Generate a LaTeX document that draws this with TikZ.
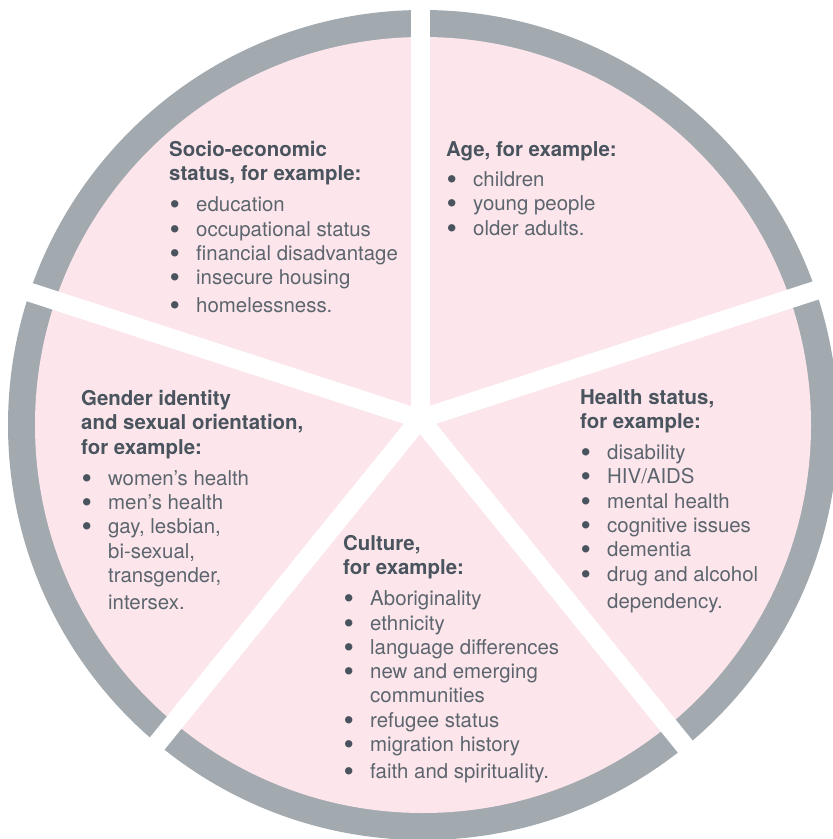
\documentclass[tikz,border=0pt]{standalone}
\usepackage{fontspec}
\setmainfont{TeX Gyre Heros}
\definecolor{pinkfill}{HTML}{FCE6EB}
\definecolor{rimgrey}{HTML}{A2A9AF}
\definecolor{headc}{HTML}{4A545E}
\definecolor{itemc}{HTML}{5C656E}
\newcommand{\bdot}{\raisebox{-3bp}{\scalebox{1.45}{\textcolor{headc}{\textbullet}}}}
\newcommand{\bitem}[1]{\makebox[27bp][l]{\hspace*{0.5bp}\bdot}#1}
\newcommand{\bcont}[1]{\hspace*{27bp}#1}
\newcommand{\hd}[1]{{\bfseries\color{headc}#1}}
\tikzset{
  block/.style={anchor=north west, inner sep=0pt, align=left, text=itemc,
    font=\fontsize{20.5}{24.4}\selectfont},
  gap/.style={draw=white, line width=19bp},
}
\begin{document}
\begin{tikzpicture}[x=1bp,y=-1bp]
\useasboundingbox (0,0) rectangle (833,839);
\clip (0,0) rectangle (833,839);
\coordinate (c) at (423,425);
\coordinate (s) at (420,419);
% rim and fill
\fill[rimgrey] (c) circle[radius=415];
\fill[pinkfill] (c) circle[radius=388];
% gaps
\draw[gap] (s) -- ++(-90:500);
\draw[gap] (s) -- ++(-18:500);
\draw[gap] (s) -- ++(-162:500);
\draw[gap] (s) -- ++(51:500);
\draw[gap] (s) -- ++(129:500);
% texts
\node[block] (socio) at (169,141.2) {\hd{Socio-economic}\\\hd{status, for example:}\\[6.6bp]
  \bitem{education}\\\bitem{occupational status}\\\bitem{financial disadvantage}\\
  \bitem{insecure housing}\\[3bp]\bitem{homelessness.}};
\node[block] (age) at (446,141.2) {\hd{Age, for example:}\\[6bp]
  \bitem{children}\\\bitem{young people}\\\bitem{older adults.}};
\node[block] (gender) at (81,390.2) {\hd{Gender identity}\\\hd{and sexual orientation,}\\\hd{for example:}\\[6.6bp]
  \bitem{women’s health}\\\bitem{men’s health}\\\bitem{gay, lesbian,}\\\bcont{bi-sexual,}\\
  \bcont{transgender,}\\[3bp]\bcont{intersex.}};
\node[block] (health) at (580,389.2) {\hd{Health status,}\\\hd{for example:}\\[6.6bp]
  \bitem{disability}\\\bitem{HIV/AIDS}\\\bitem{mental health}\\\bitem{cognitive issues}\\
  \bitem{dementia}\\\bitem{drug and alcohol}\\[3bp]\bcont{dependency.}};
\node[block] (culture) at (343,535.2) {\hd{Culture,}\\\hd{for example:}\\[6.6bp]
  \bitem{Aboriginality}\\\bitem{ethnicity}\\\bitem{language differences}\\
  \bitem{new and emerging}\\\bcont{communities}\\\bitem{refugee status}\\
  \bitem{migration history}\\[3bp]\bitem{faith and spirituality.}};
\end{tikzpicture}
\end{document}
